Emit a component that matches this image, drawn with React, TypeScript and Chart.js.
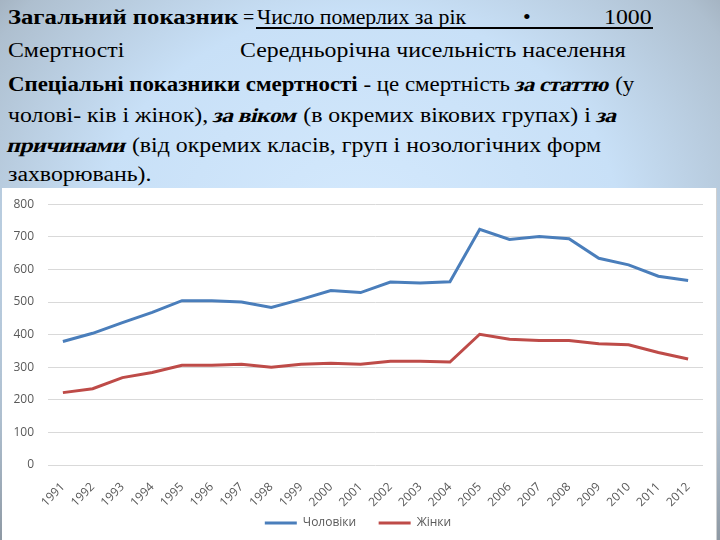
import React, { useEffect, useRef } from "react";
import Chart from "chart.js/auto";

const years = ["1991", "1992", "1993", "1994", "1995", "1996", "1997", "1998", "1999", "2000", "2001", "2002", "2003", "2004", "2005", "2006", "2007", "2008", "2009", "2010", "2011", "2012"];
const men = [379, 404, 437, 468, 504, 504, 500, 483, 508, 535, 529, 561, 558, 562, 723, 692, 701, 694, 634, 614, 579, 566];
const women = [222, 234, 268, 284, 306, 306, 309, 300, 309, 312, 309, 318, 318, 316, 401, 386, 382, 382, 372, 369, 345, 325];
const seriesNames = ["Чоловіки", "Жінки"];
const yMin = 0;
const yMax = 800;
const yStep = 100;

const serif = "'Liberation Serif', 'Times New Roman', serif";
const sans = "'Open Sans', sans-serif";

const BI = ({ children }: { children: React.ReactNode }) => (
  <span style={{ display: "inline-block", fontWeight: "bold", letterSpacing: "-0.5px", transform: "skewX(-13deg)" }}>{children}</span>
);

export default function App() {
  const ref = useRef<HTMLCanvasElement>(null);
  useEffect(() => {
    if (!ref.current) return;
    const chart = new Chart(ref.current, {
      type: "line",
      data: {
        labels: years,
        datasets: [
          { label: seriesNames[0], data: men, borderColor: "#4a7ebb", backgroundColor: "#4a7ebb", borderWidth: 3, pointRadius: 0, tension: 0 },
          { label: seriesNames[1], data: women, borderColor: "#be4b48", backgroundColor: "#be4b48", borderWidth: 3, pointRadius: 0, tension: 0 },
        ],
      },
      options: {
        responsive: false,
        animation: false,
        layout: { padding: { left: 11, right: 13, top: 8, bottom: 1 } },
        plugins: {
          tooltip: { enabled: false },
          legend: {
            position: "bottom",
            labels: {
              usePointStyle: true,
              pointStyle: "line",
              pointStyleWidth: 32,
              boxHeight: 12,
              padding: 10,
              color: "#595959",
              font: { family: sans, size: 12 },
              generateLabels: (c: any) => {
                const items = Chart.defaults.plugins.legend.labels.generateLabels(c);
                return items.map((it: any, i: number) => ({ ...it, text: i < items.length - 1 ? it.text + "    " : it.text }));
              },
            },
          },
        },
        scales: {
          x: {
            offset: true,
            grid: { display: false },
            border: { display: false },
            ticks: { minRotation: 45, maxRotation: 45, autoSkip: false, color: "#595959", font: { family: sans, size: 12 }, padding: 7 },
            afterFit: (s: any) => { s.height = 42; },
          },
          y: {
            min: yMin,
            max: yMax,
            ticks: { stepSize: yStep, color: "#595959", font: { family: sans, size: 12 }, padding: 14 },
            grid: { color: "#d9d9d9", drawTicks: false },
            border: { display: false },
            afterFit: (s: any) => { s.width = 35; },
          },
        },
      },
    });
    return () => chart.destroy();
  }, []);

  const base: React.CSSProperties = {
    position: "absolute", fontFamily: serif, fontSize: 20, lineHeight: "24px", color: "#000",
    whiteSpace: "nowrap", transformOrigin: "left center",
  };
  const line = (top: number, content: React.ReactNode, left = 8, sx = 1.19) => (
    <div style={{ ...base, left, top, transform: `scaleX(${sx})` }}>{content}</div>
  );

  return (
    <div style={{ position: "absolute", left: 0, top: 0, width: 720, height: 540, overflow: "hidden",
      background: "radial-gradient(ellipse 72% 80% at 50% 42%, #d4e9fd 0%, #c8e0f7 50%, #aebfcf 82%, #8e99a4 100%)" }}>
      {line(5, <b>Загальний показник</b>, 8, 1.234)}
      {line(5, <>=</>, 243, 1)}
      <div style={{ position: "absolute", left: 256, top: 5, width: 397, height: 22, borderBottom: "2px solid #000" }} />
      {line(5, <>Число померлих за рік</>, 257, 1.09)}
      {line(5, <>•</>, 523, 1.1)}
      {line(5, <>1000</>, 604, 1.19)}
      {line(38, <>Смертності</>)}
      {line(38, <>Середньорічна чисельність населення</>, 240)}
      {line(72, <><b>Спеціальні показники смертності</b> - це смертність <BI>за статтю</BI> (у</>, 8, 1.144)}
      {line(103, <>чолові- ків і жінок), <BI>за віком</BI> (в окремих вікових групах) і <BI>за</BI></>)}
      {line(133, <><BI>причинами</BI> (від окремих класів, груп і нозологічних форм</>)}
      {line(162, <>захворювань).</>)}
      <div style={{ position: "absolute", left: 2, top: 188, width: 714, height: 352, background: "#fff", borderRight: "1px solid #d0d0d0" }} />
      <canvas ref={ref} width={714} height={357} style={{ position: "absolute", left: 2, top: 183, display: "block" }} />
    </div>
  );
}
